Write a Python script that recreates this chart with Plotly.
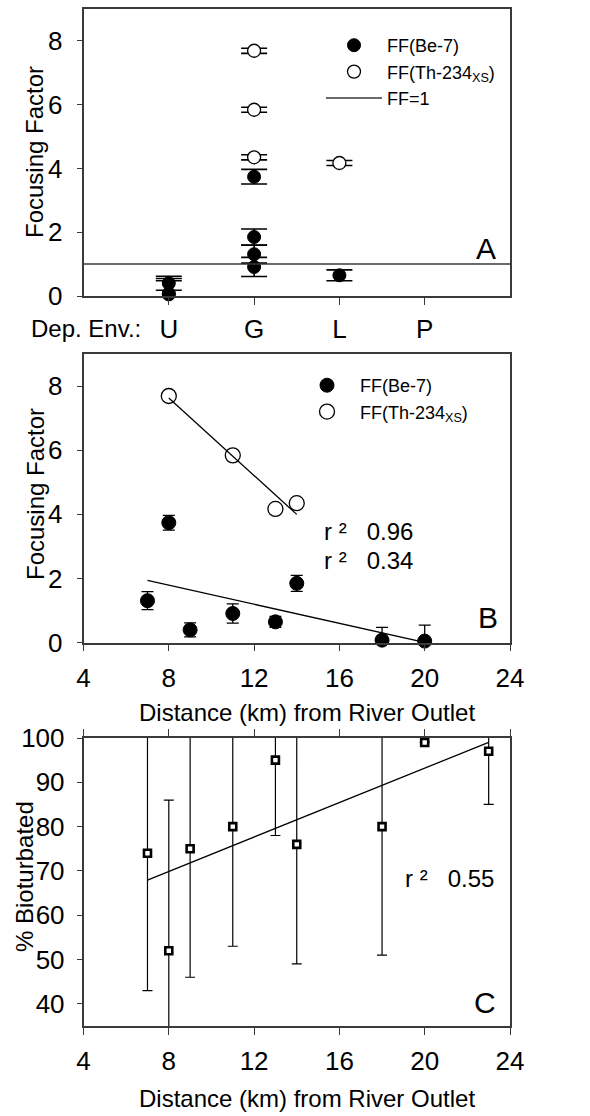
import numpy as np
import plotly.graph_objects as go

# ---------------- DATA ----------------
# Stations (Be-7 focusing factors)
station_km = [7, 8, 9, 11, 13, 14, 18, 20]
station_env = ["G", "G", "U", "G", "L", "G", "U", "U"]
ff_be7 = [1.31, 3.74, 0.40, 0.91, 0.65, 1.85, 0.08, 0.05]
ff_be7_err = [0.28, 0.23, 0.22, 0.30, 0.17, 0.25, 0.40, 0.50]

# Th-234xs focusing factors
th_km = [8, 11, 13, 14]
th_env = ["G", "G", "L", "G"]
ff_th = [7.69, 5.84, 4.17, 4.35]
ff_th_err = [0.08, 0.08, 0.08, 0.08]

env_categories = ["U", "G", "L", "P"]
ff_reference = 1.0

# % bioturbated
bio_km = [7, 8, 9, 11, 13, 14, 18, 20, 23]
bio_pct = [74, 52, 75, 80, 95, 76, 80, 99, 97]
bio_err = [31, 34, 29, 27, 17, 27, 29, 0, 12]

r2_th_label = "0.96"
r2_be_label = "0.34"
r2_bio_label = "0.55"

# ---------------- LAYOUT CONSTANTS ----------------
W, H = 590, 1116
FONT = "Liberation Sans, Arial, sans-serif"
AX = "#3a3a3a"
xl, xr = 83.5, 510.0
def px_to_paper_y(p):
    return 1 - p / H

xdom = [xl / W, xr / W]
domA = [px_to_paper_y(296), px_to_paper_y(9)]
domB = [px_to_paper_y(642.7), px_to_paper_y(354)]
domC = [px_to_paper_y(1026), px_to_paper_y(738)]

env_pos = {c: i + 1 for i, c in enumerate(env_categories)}
xA_range = [0, len(env_categories) + 1]
yFF_range = [0, 9]
yBio_range = [35, 100]

fig = go.Figure()

# ---------------- PANEL A ----------------
fig.add_trace(go.Scatter(
    x=[env_pos[e] for e in station_env], y=ff_be7, mode="markers",
    name="FF(Be-7)", xaxis="x", yaxis="y", legend="legend", cliponaxis=False,
    marker=dict(symbol="circle", size=13, color="black", line=dict(color="black", width=1)),
    error_y=dict(type="data", array=ff_be7_err, visible=True, color="black", thickness=1.6, width=13),
))
fig.add_trace(go.Scatter(
    x=[env_pos[e] for e in th_env], y=ff_th, mode="markers",
    name="FF(Th-234<sub>XS</sub>)", xaxis="x", yaxis="y", legend="legend", cliponaxis=False,
    marker=dict(symbol="circle", size=13, color="white", line=dict(color="black", width=1.3)),
    error_y=dict(type="data", array=ff_th_err, visible=True, color="black", thickness=1.6, width=13),
))
fig.add_trace(go.Scatter(
    x=xA_range, y=[ff_reference, ff_reference], mode="lines",
    name="FF=1", xaxis="x", yaxis="y", legend="legend",
    line=dict(color=AX, width=1.5),
))

# ---------------- PANEL B ----------------
fig.add_trace(go.Scatter(
    x=station_km, y=ff_be7, mode="markers",
    name="FF(Be-7)", xaxis="x2", yaxis="y2", legend="legend2", cliponaxis=False,
    marker=dict(symbol="circle", size=14, color="black", line=dict(color="black", width=1)),
    error_y=dict(type="data", array=ff_be7_err, visible=True, color="black", thickness=1.3, width=6),
))
fig.add_trace(go.Scatter(
    x=th_km, y=ff_th, mode="markers",
    name="FF(Th-234<sub>XS</sub>)", xaxis="x2", yaxis="y2", legend="legend2", cliponaxis=False,
    marker=dict(symbol="circle", size=15, color="white", line=dict(color="black", width=1.3)),
    error_y=dict(type="data", array=ff_th_err, visible=True, color="black", thickness=1.3, width=3),
))

def fit_line(xs, ys):
    m, b = np.polyfit(xs, ys, 1)
    xx = np.array([min(xs), max(xs)], dtype=float)
    return xx, m * xx + b

fx, fy = fit_line(th_km, ff_th)
fig.add_trace(go.Scatter(x=fx, y=fy, mode="lines", xaxis="x2", yaxis="y2", showlegend=False,
                         line=dict(color="black", width=1.3)))
fx, fy = fit_line(station_km, ff_be7)
fig.add_trace(go.Scatter(x=fx, y=fy, mode="lines", xaxis="x2", yaxis="y2", showlegend=False,
                         line=dict(color="black", width=1.3)))

# ---------------- PANEL C ----------------
fx, fy = fit_line(bio_km, bio_pct)
fig.add_trace(go.Scatter(x=fx, y=fy, mode="lines", xaxis="x3", yaxis="y3", showlegend=False,
                         line=dict(color="black", width=1.3)))
fig.add_trace(go.Scatter(
    x=bio_km, y=bio_pct, mode="markers", xaxis="x3", yaxis="y3", showlegend=False, cliponaxis=False,
    marker=dict(symbol="square", size=7, color="white", line=dict(color="black", width=2.6)),
    error_y=dict(type="data", array=bio_err, visible=True, color="black", thickness=1.2, width=5),
))

# ---------------- AXES ----------------
common_ax = dict(showline=True, linecolor=AX, linewidth=1.5, mirror=True, ticks="outside",
                 tickcolor=AX, tickwidth=1.3, showgrid=False, zeroline=False,
                 tickfont=dict(family=FONT, size=26, color="black"), automargin=False)

leg_common = dict(xanchor="left", yanchor="top", bgcolor="rgba(0,0,0,0)",
                  font=dict(family=FONT, size=18, color="black"), itemwidth=56, tracegroupgap=0)

fig.update_layout(
    width=W, height=H, margin=dict(l=0, r=0, t=0, b=0),
    paper_bgcolor="white", plot_bgcolor="white",
    font=dict(family=FONT, size=24, color="black"),
    xaxis=dict(domain=xdom, anchor="y", range=xA_range, tickvals=list(env_pos.values()),
               ticktext=env_categories, ticklen=7, ticklabelstandoff=2, **common_ax),
    yaxis=dict(domain=domA, anchor="x", range=yFF_range, tickvals=[0, 2, 4, 6, 8], ticklen=5,
               ticklabelstandoff=9, **common_ax),
    xaxis2=dict(domain=xdom, anchor="y2", range=[4, 24], tickvals=[4, 8, 12, 16, 20, 24], ticklen=7,
                ticklabelstandoff=4, **common_ax),
    yaxis2=dict(domain=domB, anchor="x2", range=yFF_range, tickvals=[0, 2, 4, 6, 8], ticklen=5,
                ticklabelstandoff=9, **common_ax),
    xaxis3=dict(domain=xdom, anchor="y3", range=[4, 24], tickvals=[4, 8, 12, 16, 20, 24], ticklen=7,
                ticklabelstandoff=4, **{**common_ax, "mirror": "ticks"}),
    yaxis3=dict(domain=domC, anchor="x3", range=yBio_range, tickvals=[40, 50, 60, 70, 80, 90, 100], ticklen=5,
                ticklabelstandoff=7, **common_ax),
    legend=dict(x=321 / W, y=px_to_paper_y(27), **leg_common),
    legend2=dict(x=294 / W, y=px_to_paper_y(367), **leg_common),
)

def ann(text, xpx, ypx, size=24, xanchor="center", yanchor="middle", angle=0):
    fig.add_annotation(text=text, xref="paper", yref="paper", x=xpx / W, y=px_to_paper_y(ypx),
                       xanchor=xanchor, yanchor=yanchor, showarrow=False, textangle=angle,
                       font=dict(family=FONT, size=size, color="black"))

ann("Dep. Env.:", 143, 328, size=24, xanchor="right")
ann("A", 498, 248, size=30, xanchor="right")
ann("B", 500, 617, size=30, xanchor="right")
ann("C", 498, 1002, size=30, xanchor="right")
ann("Focusing Factor", 35, 152, angle=-90)
ann("Focusing Factor", 35, 494, angle=-90)
ann("% Bioturbated", 24, 877, angle=-90)
ann("Distance (km) from River Outlet", 307, 712)
ann("Distance (km) from River Outlet", 307, 1098)
ann("r ²   " + r2_th_label, 322, 532, xanchor="left")
ann("r ²   " + r2_be_label, 322, 560, xanchor="left")
ann("r ²   " + r2_bio_label, 403, 878, xanchor="left")

fig.write_html("out.html", config={"displayModeBar": False},
               post_script="document.body.style.margin='0px';")
